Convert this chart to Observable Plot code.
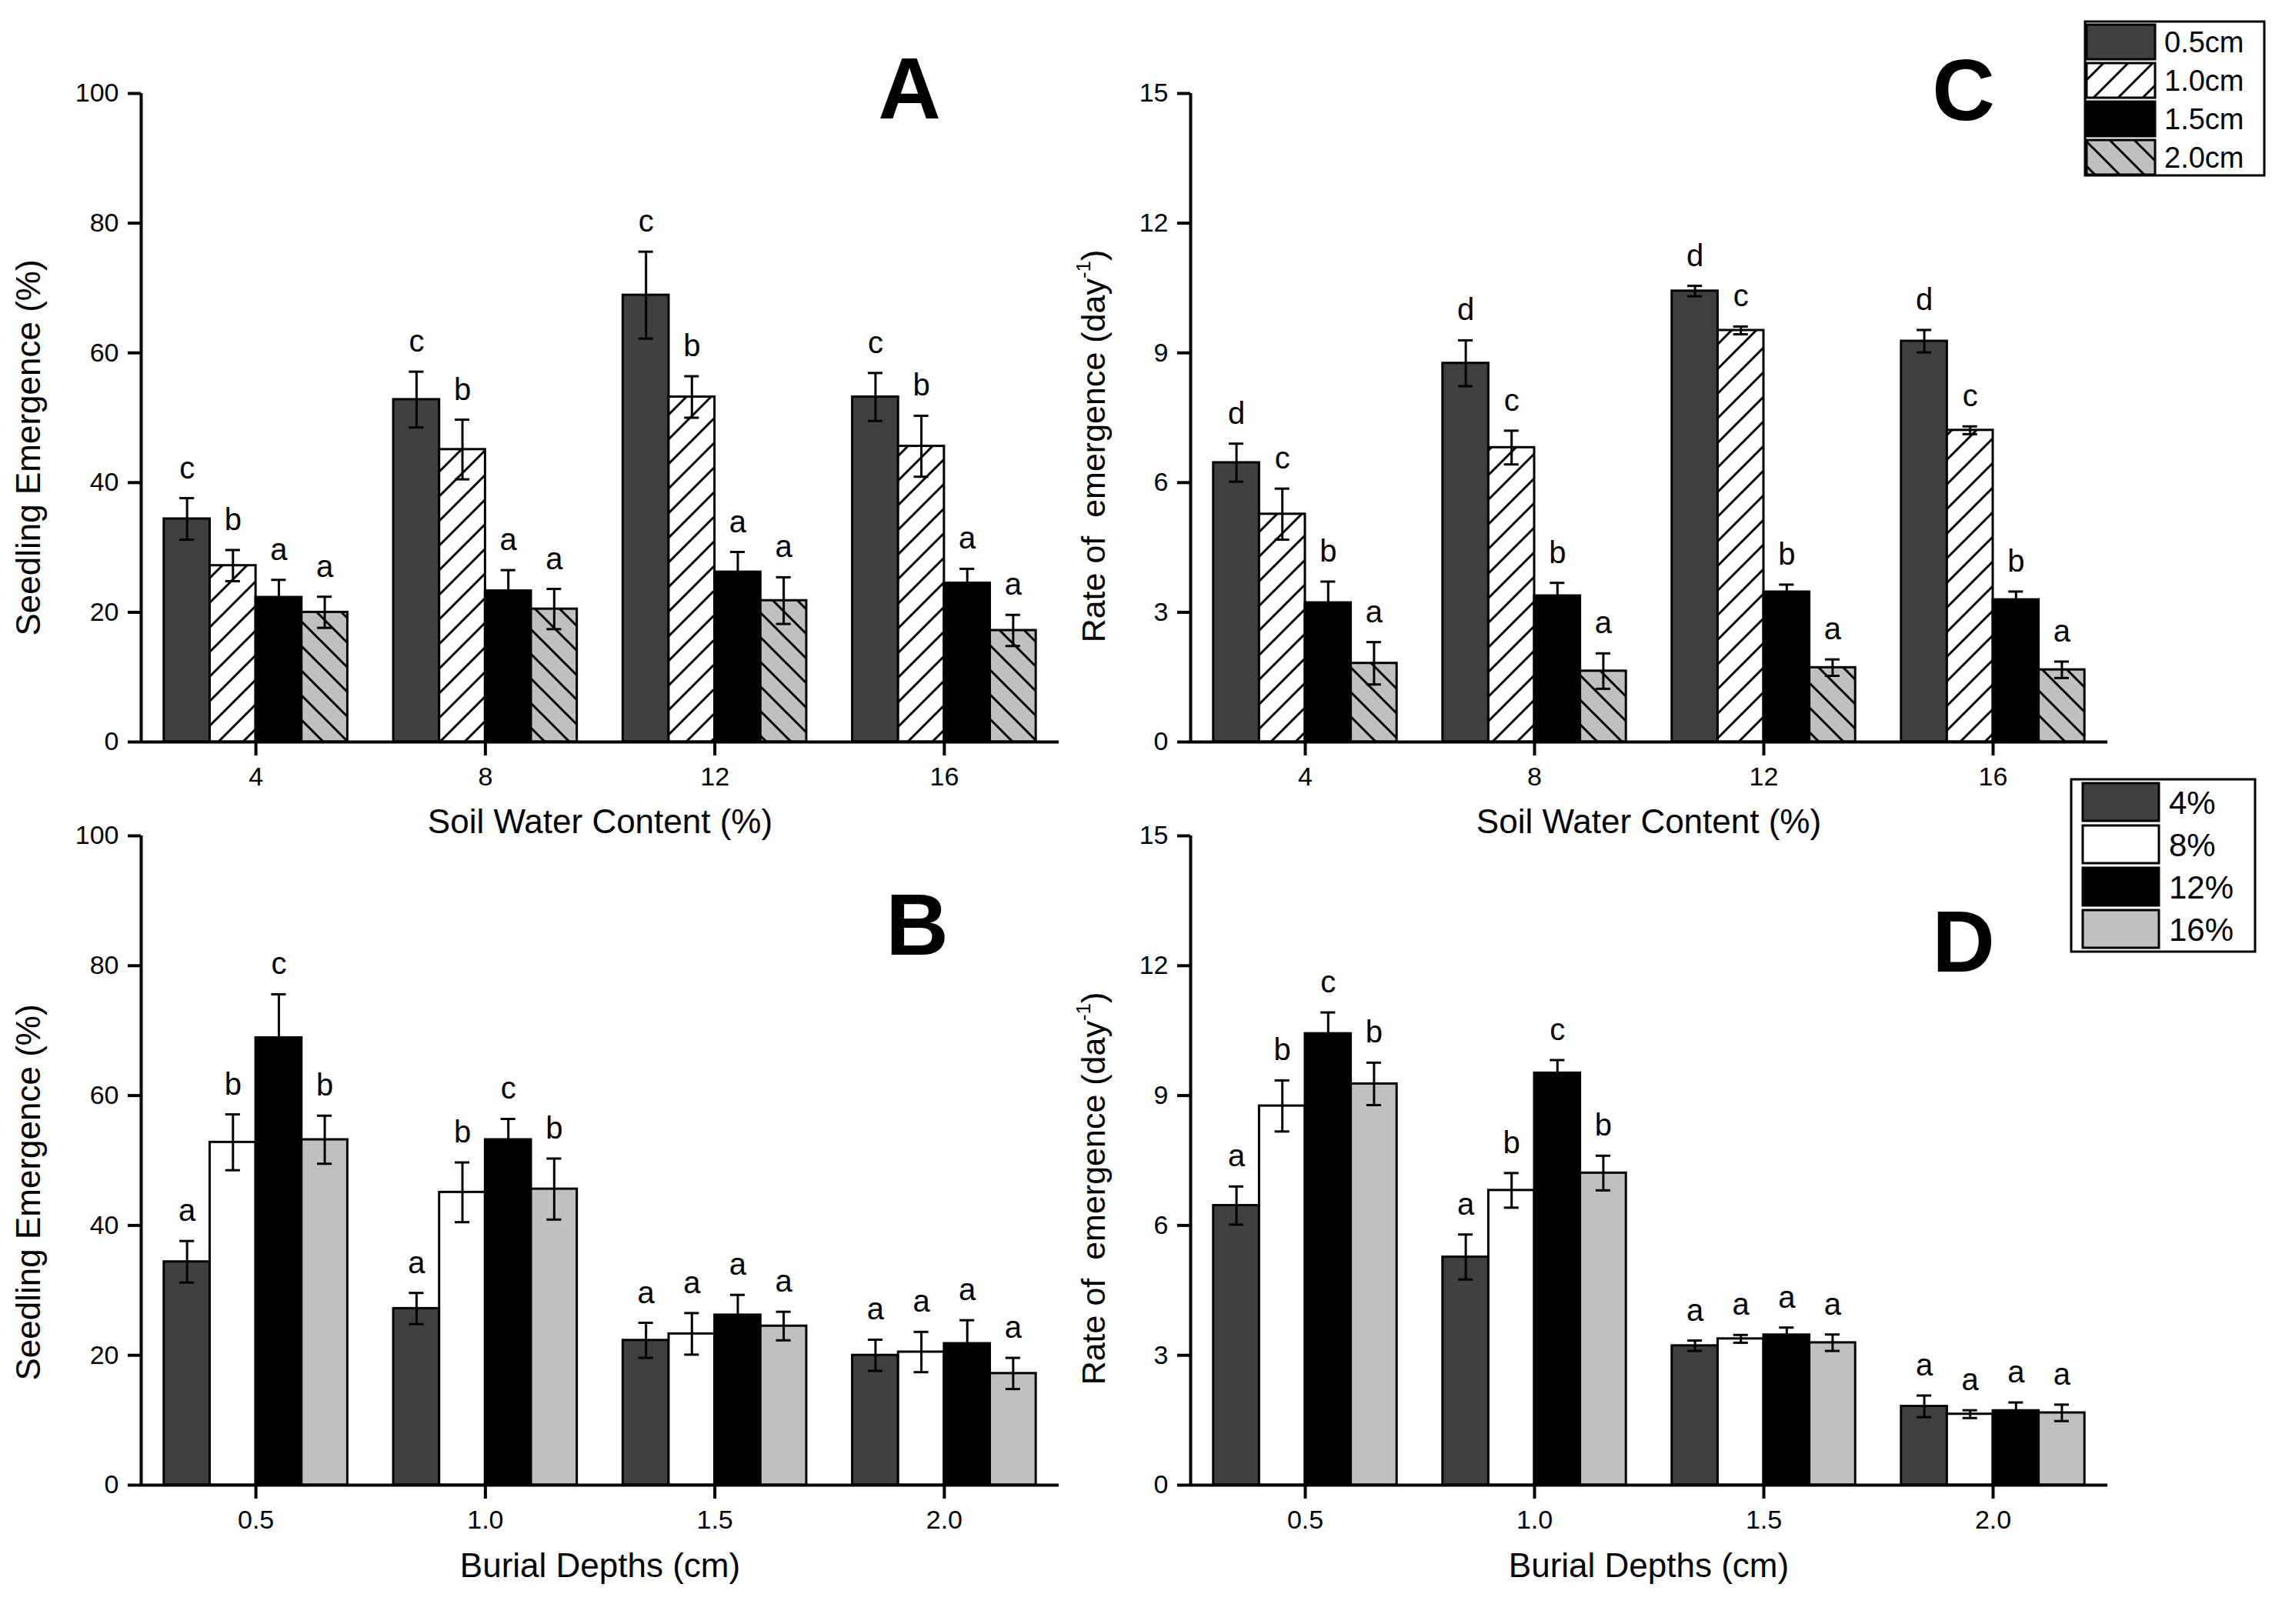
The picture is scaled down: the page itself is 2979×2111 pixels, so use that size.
<!DOCTYPE html>
<html>
<head>
<meta charset="utf-8">
<script src="https://cdn.jsdelivr.net/npm/d3@7"></script>
<script src="https://cdn.jsdelivr.net/npm/@observablehq/plot@0.6"></script>
<style>
  html, body { margin: 0; padding: 0; background: white; }
  #page { position: relative; width: 2979px; height: 2111px; background: white; overflow: hidden;
          font-family: "Liberation Sans", Arial, sans-serif; }
  .panel { position: absolute; }
  #overlay { position: absolute; left: 0; top: 0; pointer-events: none; }
</style>
</head>
<body>
<svg width="0" height="0" style="position:absolute">
  <defs>
    <pattern id="hatchFwd" patternUnits="userSpaceOnUse" width="32" height="32">
      <rect width="32" height="32" fill="white"></rect>
      <path d="M-8,8 L8,-8 M0,32 L32,0 M24,40 L40,24" stroke="black" stroke-width="3"></path>
    </pattern>
    <pattern id="hatchBack" patternUnits="userSpaceOnUse" width="32" height="32">
      <rect width="32" height="32" fill="#c0c0c0"></rect>
      <path d="M-8,24 L8,40 M0,0 L32,32 M24,-8 L40,8" stroke="black" stroke-width="3"></path>
    </pattern>
  </defs>
</svg>
<div id="page"></div>
<script>
// ---------------- data ----------------
const swcLabels = ["4", "8", "12", "16"];          // soil water content (%)
const depthLabels = ["0.5", "1.0", "1.5", "2.0"];  // burial depth (cm)
const depthKeys = ["0.5cm", "1.0cm", "1.5cm", "2.0cm"];
const swcKeys = ["4%", "8%", "12%", "16%"];

// seedling emergence (%), rows = soil water content, cols = burial depth
const emergence = [
  [34.4, 27.2, 22.3, 20.0],
  [52.8, 45.1, 23.3, 20.5],
  [68.9, 53.2, 26.2, 21.8],
  [53.2, 45.6, 24.5, 17.2]
];
const emergenceSE = [
  [3.2, 2.4, 2.7, 2.4],
  [4.3, 4.6, 3.2, 3.1],
  [6.7, 3.2, 3.1, 3.6],
  [3.7, 4.7, 2.2, 2.4]
];
// rate of emergence (day^-1), rows = soil water content, cols = burial depth
const rate = [
  [6.46, 5.27, 3.22, 1.82],
  [8.76, 6.81, 3.38, 1.64],
  [10.43, 9.52, 3.47, 1.72],
  [9.27, 7.21, 3.29, 1.67]
];
// error bars of panel C, rows = soil water content, cols = burial depth
const rateSE_C = [
  [0.44, 0.59, 0.49, 0.49],
  [0.53, 0.39, 0.30, 0.41],
  [0.12, 0.09, 0.17, 0.19],
  [0.26, 0.09, 0.19, 0.19]
];
// error bars of panel D, rows = burial depth, cols = soil water content
const rateSE_D = [
  [0.44, 0.59, 0.49, 0.49],
  [0.52, 0.40, 0.30, 0.40],
  [0.12, 0.09, 0.17, 0.19],
  [0.25, 0.09, 0.19, 0.19]
];
// significance letters
const lettersA = [["c","b","a","a"],["c","b","a","a"],["c","b","a","a"],["c","b","a","a"]]; // [swc][depth]
const lettersB = [["a","b","c","b"],["a","b","c","b"],["a","a","a","a"],["a","a","a","a"]]; // [depth][swc]
const lettersC = [["d","c","b","a"],["d","c","b","a"],["d","c","b","a"],["d","c","b","a"]]; // [swc][depth]
const lettersD = [["a","b","c","b"],["a","b","c","b"],["a","a","a","a"],["a","a","a","a"]]; // [depth][swc]

const emergenceTicks = [0, 20, 40, 60, 80, 100];
const rateTicks = [0, 3, 6, 9, 12, 15];

const depthFills = ["#404040", "url(#hatchFwd)", "#000000", "url(#hatchBack)"];
const swcFills = ["#404040", "#ffffff", "#000000", "#c0c0c0"];

// ---------------- helpers ----------------
const FONT = '"Liberation Sans", Arial, sans-serif';
const GROUPW = 0.8, NS = 4, BW = GROUPW / NS;

function rows(groupsN, seriesKeys, valueAt, seAt, letterAt) {
  const out = [];
  for (let g = 0; g < groupsN; g++) {
    for (let s = 0; s < seriesKeys.length; s++) {
      const x1 = g - GROUPW / 2 + s * BW;
      const v = valueAt(g, s), e = seAt(g, s);
      out.push({
        g, series: seriesKeys[s], x1, x2: x1 + BW, xc: x1 + BW / 2,
        capL: x1 + BW / 2 - BW * 0.16, capR: x1 + BW / 2 + BW * 0.16,
        value: v, lo: v - e, hi: v + e, letter: letterAt(g, s)
      });
    }
  }
  return out;
}

function panel(cfg) {
  const data = rows(4, cfg.seriesKeys, cfg.valueAt, cfg.seAt, cfg.letterAt);
  const xDomain = [-0.5, 3.5];
  const yDomain = [0, cfg.ticks[cfg.ticks.length - 1]];
  const svg = Plot.plot({
    width: cfg.width, height: cfg.height,
    marginLeft: cfg.ml, marginRight: cfg.mr, marginTop: cfg.mt, marginBottom: cfg.mb,
    style: { fontFamily: FONT, fontSize: "34px", background: "transparent", overflow: "visible", color: "black" },
    x: { domain: xDomain },
    y: { domain: yDomain },
    color: { domain: cfg.seriesKeys, range: cfg.fills },
    marks: [
      Plot.rect(data, { x1: "x1", x2: "x2", y1: 0, y2: "value", fill: "series", stroke: "black", strokeWidth: 3 }),
      Plot.ruleX(data, { x: "xc", y1: "lo", y2: "hi", stroke: "black", strokeWidth: 3 }),
      Plot.ruleY(data, { y: "hi", x1: "capL", x2: "capR", stroke: "black", strokeWidth: 3 }),
      Plot.ruleY(data, { y: "lo", x1: "capL", x2: "capR", stroke: "black", strokeWidth: 3 }),
      Plot.text(data, { x: "xc", y: "hi", text: "letter", lineAnchor: "bottom", dy: -26, fontSize: 40, fill: "black" }),
      Plot.ruleY([yDomain[0]], { stroke: "black", strokeWidth: 4 }),
      Plot.ruleX([xDomain[0]], { stroke: "black", strokeWidth: 4 }),
      Plot.axisX({ ticks: [0, 1, 2, 3], tickFormat: i => cfg.groupLabels[i], tickSize: 18, tickPadding: 14,
                   strokeWidth: 4, fontSize: 34, label: null }),
      Plot.axisY({ ticks: cfg.ticks, tickSize: 17, tickPadding: 12, strokeWidth: 4, fontSize: 34, label: null })
    ]
  });
  const wrap = document.createElement("div");
  wrap.className = "panel";
  wrap.style.left = cfg.left + "px";
  wrap.style.top = cfg.top + "px";
  wrap.appendChild(svg);
  document.getElementById("page").appendChild(wrap);
}

// A: emergence vs soil water content, series = depth
panel({
  left: 0, top: 0, width: 1450, height: 1040, ml: 183, mr: 74, mt: 121, mb: 76,
  seriesKeys: depthKeys, fills: depthFills, groupLabels: swcLabels, ticks: emergenceTicks,
  valueAt: (g, s) => emergence[g][s], seAt: (g, s) => emergenceSE[g][s], letterAt: (g, s) => lettersA[g][s]
});
// C: rate vs soil water content, series = depth
panel({
  left: 1400, top: 0, width: 1579, height: 1040, ml: 147, mr: 240, mt: 121, mb: 76,
  seriesKeys: depthKeys, fills: depthFills, groupLabels: swcLabels, ticks: rateTicks,
  valueAt: (g, s) => rate[g][s], seAt: (g, s) => rateSE_C[g][s], letterAt: (g, s) => lettersC[g][s]
});
// B: emergence vs burial depth, series = soil water content
panel({
  left: 0, top: 1040, width: 1450, height: 1071, ml: 183, mr: 74, mt: 46, mb: 181,
  seriesKeys: swcKeys, fills: swcFills, groupLabels: depthLabels, ticks: emergenceTicks,
  valueAt: (g, s) => emergence[s][g], seAt: (g, s) => emergenceSE[s][g], letterAt: (g, s) => lettersB[g][s]
});
// D: rate vs burial depth, series = soil water content
panel({
  left: 1400, top: 1040, width: 1579, height: 1071, ml: 147, mr: 240, mt: 46, mb: 181,
  seriesKeys: swcKeys, fills: swcFills, groupLabels: depthLabels, ticks: rateTicks,
  valueAt: (g, s) => rate[s][g], seAt: (g, s) => rateSE_D[g][s], letterAt: (g, s) => lettersD[g][s]
});

// ---------------- overlay: titles, panel letters, legends ----------------
const ov = d3.select("#page").append("svg").attr("id", "overlay")
  .attr("width", 2979).attr("height", 2111)
  .style("font-family", FONT);

// x-axis titles
[[780, 1083, "Soil Water Content (%)"], [2143, 1083, "Soil Water Content (%)"],
 [780, 2050, "Burial Depths (cm)"], [2143, 2050, "Burial Depths (cm)"]].forEach(([x, y, t]) => {
  ov.append("text").attr("x", x).attr("y", y).attr("text-anchor", "middle")
    .attr("font-size", 44).text(t);
});

// y-axis titles
function yTitleEmergence(x, y) {
  ov.append("text").attr("transform", `translate(${x},${y}) rotate(-90)`)
    .attr("text-anchor", "middle").attr("font-size", 44).text("Seedling Emergence (%)");
}
function yTitleRate(x, y) {
  const t = ov.append("text").attr("transform", `translate(${x},${y}) rotate(-90)`)
    .attr("text-anchor", "middle").attr("font-size", 43).attr("xml:space", "preserve")
    .style("white-space", "pre");
  t.append("tspan").text("Rate of  emergence (day");
  t.append("tspan").attr("font-size", 26).attr("dy", -19).text("-1");
  t.append("tspan").attr("dy", 19).text(")");
}
yTitleEmergence(52, 582);
yTitleEmergence(52, 1550);
yTitleRate(1436, 580);
yTitleRate(1436, 1545);

// panel letters
[[1182, 154, "A"], [2552, 156, "C"], [1192, 1241, "B"], [2552, 1263, "D"]].forEach(([x, y, t]) => {
  ov.append("text").attr("x", x).attr("y", y).attr("text-anchor", "middle")
    .attr("font-size", 113).attr("font-weight", "bold").text(t);
});

// legends
function legend(box, sw, keys, fills, fontSize) {
  ov.append("rect").attr("x", box.x).attr("y", box.y).attr("width", box.w).attr("height", box.h)
    .attr("fill", "white").attr("stroke", "black").attr("stroke-width", 3);
  keys.forEach((k, i) => {
    const y = sw.y + i * sw.step;
    ov.append("rect").attr("x", sw.x).attr("y", y).attr("width", sw.w).attr("height", sw.h)
      .attr("fill", fills[i]).attr("stroke", "black").attr("stroke-width", 3);
    ov.append("text").attr("x", sw.tx).attr("y", y + sw.h / 2).attr("dy", "0.36em")
      .attr("font-size", fontSize).text(k);
  });
}
legend({ x: 2710, y: 28, w: 233, h: 200 }, { x: 2712, y: 32, w: 89, h: 45, step: 50, tx: 2813 },
       depthKeys, depthFills, 38);
legend({ x: 2692, y: 1013, w: 239, h: 224 }, { x: 2707, y: 1018, w: 99, h: 49, step: 55, tx: 2819 },
       swcKeys, swcFills, 42);
</script>
</body>
</html>
